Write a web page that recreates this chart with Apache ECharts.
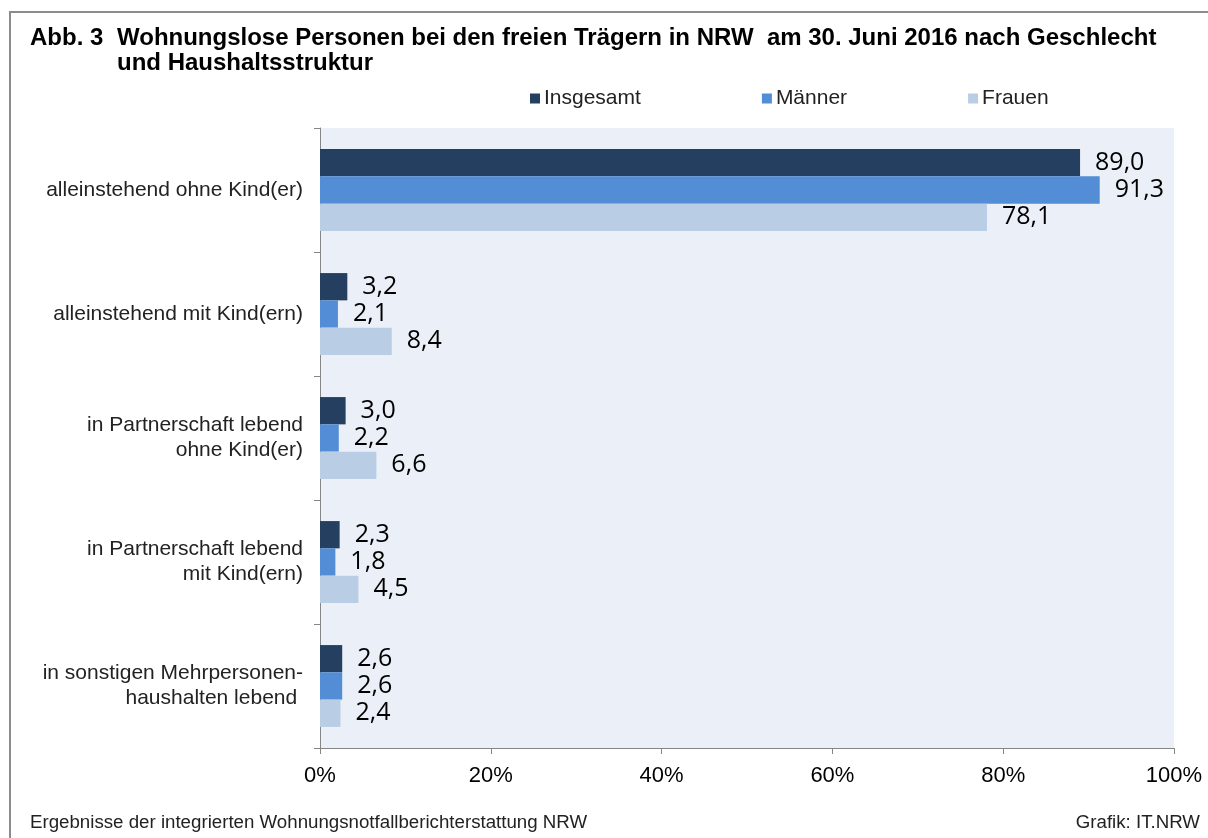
<!DOCTYPE html>
<html>
<head>
<meta charset="utf-8">
<title>Abb. 3 Wohnungslose Personen</title>
<script src="https://cdn.jsdelivr.net/npm/echarts@6/dist/echarts.min.js"></script>
<style>
	html, body {margin: 0; padding: 0; background: #fff;}
	#chart {width: 1208px; height: 838px;}
</style>
</head>
<body>
<div id="chart"></div>
<script>
// Daten
var categories = [
	'alleinstehend ohne Kind(er)',
	'alleinstehend mit Kind(ern)',
	'in Partnerschaft lebend\nohne Kind(er)',
	'in Partnerschaft lebend\nmit Kind(ern)',
	'in sonstigen Mehrpersonen-\nhaushalten lebend '
];
var seriesNames = ['Insgesamt', 'Männer', 'Frauen'];
var insgesamt = [89.0, 3.2, 3.0, 2.3, 2.6];
var maenner = [91.3, 2.1, 2.2, 1.8, 2.6];
var frauen = [78.1, 8.4, 6.6, 4.5, 2.4];
var xTicks = [0, 20, 40, 60, 80, 100];

var colors = ['#243f60', '#538dd5', '#b9cde5'];
var font = 'Liberation Sans, Arial, sans-serif';

function makeSeries(name, values) {
	return {
		name: name,
		type: 'bar',
		data: values,
		barGap: '0%',
		barCategoryGap: '34%',
		label: {
			show: true,
			position: 'right',
			distance: 15,
			color: '#000',
			fontFamily: 'Open Sans, sans-serif',
			fontSize: 25,
			formatter: function(p) {
				return p.value.toFixed(1).replace('.', ',');
			}
		}
	};
}

var myChart = echarts.init(document.getElementById('chart'));

var option = {
	animation: false,
	color: colors,
	textStyle: {fontFamily: font},
	title: [{
		text: 'Abb. 3',
		left: 30,
		top: 26,
		padding: 0,
		textStyle: {fontFamily: font, fontSize: 24, fontWeight: 'bold', color: '#000', lineHeight: 25}
	}, {
		text: 'Wohnungslose Personen bei den freien Trägern in NRW  am 30. Juni 2016 nach Geschlecht\nund Haushaltsstruktur',
		left: 117,
		top: 26,
		padding: 0,
		textStyle: {fontFamily: font, fontSize: 24, fontWeight: 'bold', color: '#000', lineHeight: 25}
	}],
	legend: {
		data: seriesNames,
		left: 525,
		top: 83,
		icon: 'rect',
		itemWidth: 10,
		itemHeight: 10,
		itemGap: 121,
		textStyle: {fontFamily: font, fontSize: 21, color: '#222', padding: [0, 0, 0, -1]}
	},
	grid: {
		left: 320,
		right: 34,
		top: 128,
		bottom: 90,
		show: true,
		backgroundColor: '#ebf0f8',
		borderWidth: 0
	},
	xAxis: {
		type: 'value',
		min: 0,
		max: 100,
		interval: 20,
		axisLine: {show: true, lineStyle: {color: '#868686', width: 1}},
		axisTick: {show: true, length: 6, lineStyle: {color: '#868686'}},
		splitLine: {show: false},
		axisLabel: {
			margin: 17,
			fontFamily: font,
			fontSize: 22,
			color: '#000',
			formatter: function(v) {
				return xTicks.indexOf(v) >= 0 ? v + '%' : '';
			}
		}
	},
	yAxis: {
		type: 'category',
		data: categories,
		inverse: true,
		axisLine: {show: true, lineStyle: {color: '#868686', width: 1}},
		axisTick: {show: true, length: 6, lineStyle: {color: '#868686'}},
		axisLabel: {
			margin: 17,
			fontFamily: font,
			fontSize: 21,
			lineHeight: 25,
			color: '#222',
			align: 'right'
		}
	},
	series: [
		makeSeries(seriesNames[0], insgesamt),
		makeSeries(seriesNames[1], maenner),
		makeSeries(seriesNames[2], frauen)
	],
	graphic: [{
		// Rahmen
		type: 'rect',
		shape: {x: 10, y: 12, width: 1250, height: 900},
		style: {fill: 'none', stroke: '#8c8c8c', lineWidth: 2},
		silent: true
	}, {
		type: 'text',
		left: 30,
		top: 813,
		style: {text: 'Ergebnisse der integrierten Wohnungsnotfallberichterstattung NRW', fontFamily: font, fontSize: 18.7, fill: '#222'}
	}, {
		type: 'text',
		right: 8,
		top: 813,
		style: {text: 'Grafik: IT.NRW', fontFamily: font, fontSize: 18.7, fill: '#222'}
	}]
};

myChart.setOption(option);
</script>
</body>
</html>
